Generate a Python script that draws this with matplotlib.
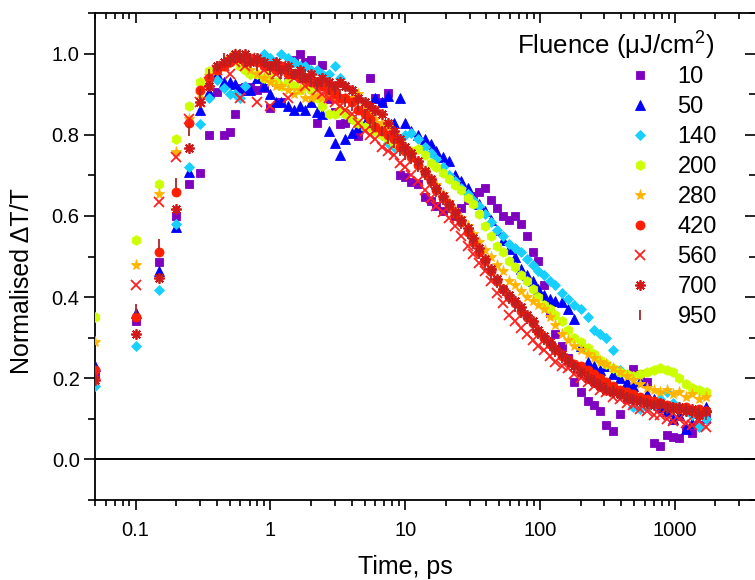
import numpy as np
import matplotlib
matplotlib.use('Agg')
import matplotlib.pyplot as plt
from matplotlib.ticker import LogLocator, MultipleLocator, FixedLocator, NullFormatter

plt.rcParams['font.family'] = ['Liberation Sans', 'DejaVu Sans']
plt.rcParams['mathtext.fontset'] = 'custom'
plt.rcParams['mathtext.rm'] = 'Liberation Sans'
plt.rcParams['mathtext.it'] = 'Liberation Sans:italic'

# pump-probe delays, ps
time_ps = [0.05, 0.1, 0.15, 0.2, 0.25, 0.3, 0.35, 0.4, 0.45, 0.5,
           0.55, 0.6, 0.65, 0.7, 0.8, 0.9, 1.0, 1.1, 1.2, 1.35,
           1.5, 1.65, 1.8, 2.0, 2.2, 2.4, 2.7, 3.0, 3.3, 3.6,
           4.0, 4.5, 5.0, 5.5, 6.0, 6.7, 7.5, 8.3, 9.2, 10,
           11, 12.5, 14, 15.5, 17, 19, 21, 23.5, 26, 29,
           32, 35, 39, 43, 48, 53, 59, 65, 72, 80,
           88, 97, 107, 118, 130, 145, 160, 180, 200, 225,
           250, 280, 310, 350, 390, 440, 490, 550, 620, 700,
           780, 870, 970, 1080, 1200, 1350, 1500, 1700]

f10 = [0.21, 0.34, 0.487, 0.60, 0.678, 0.705, 0.80, 0.905, 0.80, 0.806,
       0.85, 0.915, 0.917, 0.917, 0.91, 0.914, 0.867, 0.93, 0.88, 0.93,
       0.985, 1.0, 0.98, 0.985, 0.83, 0.973, 0.887, 0.855, 0.826, 0.83,
       0.838, 0.796, 0.86, 0.94, 0.89, 0.88, 0.904, 0.80, 0.70, 0.695,
       0.683, 0.678, 0.646, 0.636, 0.624, 0.612, 0.63, 0.60, 0.62, 0.64,
       0.65, 0.66, 0.67, 0.64, 0.62, 0.60, 0.59, 0.60, 0.58, 0.55,
       0.51, 0.49, 0.43, 0.36, 0.31, 0.28, 0.25, 0.19, 0.167, 0.145,
       0.133, 0.12, 0.084, 0.071, 0.113, 0.15, 0.224, 0.21, 0.19, 0.04,
       0.032, 0.06, 0.056, 0.052, 0.076, 0.065, 0.085, 0.10]

f50 = [0.23, 0.36, 0.465, 0.572, 0.708, 0.86, 0.905, 0.95, 0.93, 0.93,
       0.925, 0.91, 0.915, 0.91, 0.94, 0.92, 0.90, 0.88, 0.88, 0.87,
       0.86, 0.87, 0.86, 0.88, 0.857, 0.85, 0.81, 0.78, 0.75, 0.79,
       0.805, 0.82, 0.83, 0.86, 0.89, 0.88, 0.895, 0.83, 0.89, 0.83,
       0.81, 0.80, 0.79, 0.776, 0.76, 0.745, 0.735, 0.70, 0.685, 0.67,
       0.645, 0.63, 0.612, 0.59, 0.565, 0.54, 0.518, 0.50, 0.47, 0.455,
       0.44, 0.42, 0.405, 0.395, 0.39, 0.388, 0.37, 0.346, 0.28, 0.24,
       0.23, 0.22, 0.231, 0.21, 0.20, 0.19, 0.18, 0.192, 0.16, 0.15,
       0.13, 0.12, 0.10, 0.11, 0.076, 0.09, 0.12, 0.13]

f140 = [0.18, 0.28, 0.418, 0.58, 0.72, 0.827, 0.89, 0.935, 0.915, 0.90,
        0.90, 0.89, 0.92, 0.95, 0.99, 1.0, 0.99, 0.98, 1.0, 0.99,
        0.98, 0.97, 0.97, 0.96, 0.96, 0.95, 0.95, 0.97, 0.94, 0.92,
        0.91, 0.89, 0.88, 0.86, 0.83, 0.80, 0.78, 0.77, 0.79, 0.80,
        0.805, 0.79, 0.77, 0.755, 0.74, 0.72, 0.70, 0.685, 0.67, 0.655,
        0.64, 0.625, 0.605, 0.585, 0.565, 0.55, 0.53, 0.52, 0.51, 0.495,
        0.48, 0.465, 0.455, 0.44, 0.43, 0.41, 0.395, 0.38, 0.37, 0.35,
        0.32, 0.31, 0.30, 0.27, 0.22, 0.16, 0.13, 0.125, 0.13, 0.14,
        0.15, 0.165, 0.14, 0.13, 0.12, 0.11, 0.08, 0.10]

f200 = [0.35, 0.54, 0.678, 0.79, 0.87, 0.93, 0.958, 0.96, 0.97, 0.98,
        0.99, 0.97, 0.96, 0.95, 0.95, 0.94, 0.95, 0.93, 0.92, 0.93,
        0.92, 0.91, 0.92, 0.91, 0.89, 0.87, 0.85, 0.85, 0.86, 0.85,
        0.84, 0.83, 0.82, 0.82, 0.81, 0.80, 0.79, 0.78, 0.77, 0.765,
        0.76, 0.765, 0.75, 0.73, 0.72, 0.705, 0.69, 0.675, 0.665, 0.645,
        0.63, 0.605, 0.575, 0.55, 0.525, 0.51, 0.49, 0.475, 0.455, 0.44,
        0.42, 0.40, 0.38, 0.37, 0.355, 0.34, 0.32, 0.30, 0.29, 0.275,
        0.26, 0.245, 0.235, 0.225, 0.215, 0.21, 0.205, 0.21, 0.215, 0.22,
        0.225, 0.22, 0.215, 0.20, 0.185, 0.175, 0.17, 0.165]

f280 = [0.29, 0.48, 0.654, 0.757, 0.84, 0.90, 0.945, 0.96, 0.975, 0.99,
        1.0, 0.99, 0.98, 0.96, 0.95, 0.94, 0.93, 0.92, 0.92, 0.91,
        0.90, 0.91, 0.89, 0.89, 0.895, 0.89, 0.90, 0.89, 0.885, 0.89,
        0.89, 0.90, 0.87, 0.85, 0.84, 0.83, 0.82, 0.80, 0.78, 0.765,
        0.75, 0.73, 0.71, 0.69, 0.675, 0.655, 0.635, 0.615, 0.595, 0.575,
        0.555, 0.535, 0.515, 0.50, 0.48, 0.465, 0.44, 0.43, 0.415, 0.40,
        0.39, 0.38, 0.37, 0.35, 0.33, 0.31, 0.295, 0.28, 0.27, 0.26,
        0.25, 0.24, 0.235, 0.225, 0.215, 0.205, 0.195, 0.185, 0.175, 0.17,
        0.165, 0.17, 0.16, 0.165, 0.155, 0.16, 0.15, 0.155]

f420 = [0.22, 0.35, 0.51, 0.66, 0.83, 0.91, 0.94, 0.96, 0.97, 0.98,
        0.99, 0.99, 0.98, 0.99, 0.98, 0.97, 0.97, 0.96, 0.97, 0.95,
        0.95, 0.94, 0.94, 0.93, 0.93, 0.92, 0.91, 0.90, 0.89, 0.89,
        0.88, 0.86, 0.85, 0.84, 0.82, 0.81, 0.80, 0.79, 0.77, 0.76,
        0.745, 0.725, 0.705, 0.685, 0.665, 0.645, 0.625, 0.605, 0.585, 0.56,
        0.535, 0.51, 0.49, 0.465, 0.44, 0.42, 0.40, 0.385, 0.365, 0.35,
        0.335, 0.315, 0.30, 0.285, 0.27, 0.255, 0.245, 0.235, 0.23, 0.22,
        0.21, 0.20, 0.19, 0.18, 0.172, 0.167, 0.16, 0.155, 0.148, 0.143,
        0.14, 0.135, 0.13, 0.125, 0.13, 0.12, 0.125, 0.12]

f560 = [0.21, 0.43, 0.635, 0.745, 0.84, 0.88, 0.93, 0.96, 0.97, 0.95,
        0.98, 0.89, 0.97, 0.99, 0.88, 0.96, 0.87, 0.95, 0.97, 0.89,
        0.94, 0.95, 0.92, 0.93, 0.91, 0.90, 0.89, 0.88, 0.87, 0.86,
        0.85, 0.83, 0.81, 0.80, 0.79, 0.77, 0.76, 0.75, 0.73, 0.72,
        0.70, 0.685, 0.665, 0.645, 0.625, 0.61, 0.595, 0.575, 0.55, 0.525,
        0.505, 0.485, 0.465, 0.44, 0.41, 0.385, 0.355, 0.34, 0.325, 0.31,
        0.295, 0.28, 0.27, 0.255, 0.24, 0.23, 0.225, 0.21, 0.20, 0.19,
        0.18, 0.17, 0.165, 0.155, 0.15, 0.14, 0.135, 0.125, 0.12, 0.11,
        0.11, 0.10, 0.095, 0.10, 0.09, 0.085, 0.095, 0.08]

f700 = [0.195, 0.31, 0.447, 0.618, 0.767, 0.88, 0.92, 0.97, 0.98, 0.99,
        1.0, 0.99, 1.0, 0.98, 0.99, 0.98, 0.97, 0.98, 0.96, 0.97,
        0.95, 0.96, 0.94, 0.95, 0.93, 0.94, 0.93, 0.92, 0.93, 0.92,
        0.91, 0.89, 0.88, 0.87, 0.86, 0.85, 0.83, 0.81, 0.79, 0.77,
        0.755, 0.735, 0.71, 0.69, 0.67, 0.65, 0.63, 0.61, 0.59, 0.57,
        0.545, 0.52, 0.495, 0.47, 0.445, 0.42, 0.405, 0.39, 0.375, 0.355,
        0.34, 0.32, 0.305, 0.29, 0.275, 0.26, 0.245, 0.23, 0.215, 0.20,
        0.19, 0.18, 0.17, 0.165, 0.16, 0.155, 0.15, 0.145, 0.14, 0.135,
        0.14, 0.13, 0.125, 0.13, 0.12, 0.125, 0.11, 0.12]

f950 = [0.20, 0.37, 0.53, 0.68, 0.81, 0.90, 0.95, 0.97, 0.99, 0.98,
        0.99, 1.0, 0.98, 0.99, 0.97, 0.98, 0.96, 0.97, 0.95, 0.96,
        0.95, 0.94, 0.95, 0.93, 0.92, 0.93, 0.91, 0.91, 0.90, 0.88,
        0.87, 0.87, 0.85, 0.83, 0.82, 0.81, 0.79, 0.78, 0.76, 0.75,
        0.74, 0.72, 0.70, 0.68, 0.66, 0.64, 0.62, 0.60, 0.58, 0.555,
        0.53, 0.505, 0.48, 0.455, 0.435, 0.415, 0.395, 0.375, 0.36, 0.345,
        0.325, 0.31, 0.295, 0.28, 0.265, 0.25, 0.24, 0.225, 0.215, 0.205,
        0.195, 0.185, 0.175, 0.17, 0.16, 0.155, 0.15, 0.145, 0.14, 0.135,
        0.13, 0.125, 0.13, 0.12, 0.125, 0.115, 0.12, 0.11]

fluence_labels = ['10', '50', '140', '200', '280', '420', '560', '700', '950']
series = [f10, f50, f140, f200, f280, f420, f560, f700, f950]
colors = ['#8000C0', '#0000FF', '#18D0FF', '#CCFF00', '#FFB400',
          '#FF1E00', '#FF2020', '#D01818', '#A82828']
markers = ['s', '^', 'D', 'h', '*', 'o', 'x', (8, 2, 0), '|']
sizes = [5.5, 6.5, 5.5, 7, 8, 6.5, 7, 7.5, 7]

W, H = 755, 580
fig = plt.figure(figsize=(W / 100, H / 100), dpi=100)
# axes box in pixels: left 95, right 756 (just past the edge), top 13, bottom 500
ax = fig.add_axes([95 / W, (H - 500) / H, (756 - 95) / W, (500 - 13) / H])

handles = []
for i in range(len(series)):
    filled = markers[i] not in ('x', '|') and not isinstance(markers[i], tuple)
    h, = ax.plot(time_ps, series[i], linestyle='none', marker=markers[i],
                 markersize=sizes[i], color=colors[i],
                 markeredgewidth=0.6 if filled else 1.3,
                 markeredgecolor=colors[i], zorder=3 + i, clip_on=True)
    handles.append(h)

ax.axhline(0.0, color='black', lw=1.4, zorder=2)

ax.set_xscale('log')
ax.set_xlim(0.05, 4000)
ax.set_ylim(-0.1, 1.1)

ax.xaxis.set_major_locator(FixedLocator([0.1, 1, 10, 100, 1000]))
ax.set_xticklabels(['0.1', '1', '10', '100', '1000'])
ax.xaxis.set_minor_locator(LogLocator(base=10, subs=np.arange(2, 10), numticks=20))
ax.xaxis.set_minor_formatter(NullFormatter())
ax.yaxis.set_major_locator(FixedLocator([0.0, 0.2, 0.4, 0.6, 0.8, 1.0]))
ax.set_yticklabels(['0.0', '0.2', '0.4', '0.6', '0.8', '1.0'])
ax.yaxis.set_minor_locator(MultipleLocator(0.1))

for s in ax.spines.values():
    s.set_linewidth(1.3)

ax.tick_params(axis='both', which='both', width=1.2, labelsize=14.5)
ax.tick_params(axis='x', which='major', direction='out', length=7, pad=8,
               top=True)
ax.tick_params(axis='x', which='minor', direction='out', length=4, top=True)
ax.tick_params(axis='y', which='major', direction='out', length=8, pad=3,
               right=True)
ax.tick_params(axis='y', which='minor', direction='out', length=5, right=True)

# ticks on the top/right spines point inward
for t in ax.xaxis.get_major_ticks() + ax.xaxis.get_minor_ticks():
    t.tick2line.set_marker(3)  # TICKDOWN
for t in ax.yaxis.get_major_ticks() + ax.yaxis.get_minor_ticks():
    t.tick2line.set_marker(0)  # TICKLEFT

fig.text(405 / W, 1 - 567 / H, 'Time, ps', ha='center', va='center', fontsize=18)
fig.text(22 / W, 1 - 281 / H, 'Normalised ΔT/T', ha='center', va='center',
         rotation=90, fontsize=18)

fig.text(517 / W, 1 - 55 / H, 'Fluence (μJ/cm$^{2}$)', ha='left',
         va='baseline', fontsize=18.6)
ax.legend(handles, fluence_labels, loc='upper left', frameon=False,
          bbox_to_anchor=(628 / W, 1 - 66 / H), bbox_transform=fig.transFigure,
          fontsize=17, handlelength=1.0, handletextpad=1.1, labelspacing=0.34,
          borderpad=0, borderaxespad=0, markerscale=1.0)

fig.savefig('out.png', dpi=100)
